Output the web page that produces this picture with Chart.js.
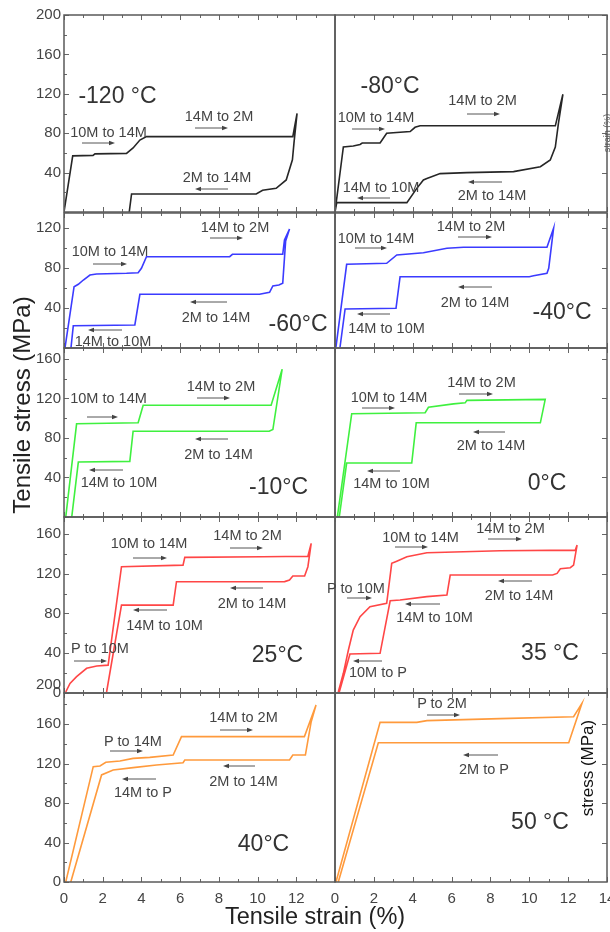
<!DOCTYPE html>
<html><head><meta charset="utf-8">
<script src="https://cdn.jsdelivr.net/npm/chart.js@4"></script>
<style>
html,body{margin:0;padding:0;background:#fff;}
#wrap{position:relative;width:610px;height:932px;overflow:hidden;font-family:"Liberation Sans",Arial,sans-serif;background:#fff;}
canvas{position:absolute;}
.t{position:absolute;white-space:nowrap;transform:translate(-50%,-50%);line-height:1;color:#444;}
.rot{position:absolute;white-space:nowrap;line-height:1;transform:translate(-50%,-50%) rotate(-90deg);}
svg{position:absolute;left:0;top:0;}
</style></head><body><div id="wrap"></div>
<script>
// ---------------- DATA ----------------
const xTicksLeft  = [0, 2, 4, 6, 8, 10, 12];
const xTicksRight = [0, 2, 4, 6, 8, 10, 12, 14];
const yTicksRow1 = [40, 80, 120, 160, 200];
const yTicksRow2 = [40, 80, 120];
const yTicksRow3 = [40, 80, 120, 160];
const yTicksRow4 = [0, 40, 80, 120, 160];
const yTicksRow5 = [0, 40, 80, 120, 160, 200];

// -120 °C
const strainM120 = [0, 0.45, 1.5, 1.6, 3.23, 3.57, 3.92, 4.26, 11.82, 12.04, 11.88, 11.8, 11.48, 10.96, 10.26, 9.93, 3.49, 3.37];
const stressM120 = [0, 57, 57.5, 59, 59.5, 65, 73, 76.5, 76.5, 100, 70, 53, 32.5, 24, 22, 18.3, 18.3, 0];
// -80 °C
const strainM80 = [0, 0.43, 0.94, 1.29, 1.4, 2.32, 2.66, 3.87, 4.12, 4.38, 11.34, 11.73, 11.5, 11.34, 11.08, 10.57, 9.19, 6.79, 5.41, 4.73, 4.55, 4.21, 3.7, 0.09, 0];
const stressM80 = [0, 66, 67, 68.5, 70, 70, 80, 81.7, 86, 87.5, 87.5, 119.5, 90, 66, 52.8, 46, 41, 40, 39, 34, 32.5, 24, 9.5, 9.5, 0];
// -60 °C
const strainM60 = [0.05, 0.52, 0.74, 1.0, 1.34, 1.68, 3.23, 3.83, 4.0, 4.26, 8.56, 8.7, 11.3, 11.39, 11.65, 11.45, 11.3, 11.1, 10.79, 10.62, 10.1, 3.92, 3.66, 0.48, 0.36];
const stressM60 = [0, 61.3, 63.7, 68, 73, 74, 74.7, 75.3, 79.7, 91.3, 91.3, 93.7, 93.7, 108, 119, 107, 64.7, 63, 62, 55.7, 53.7, 53.7, 23, 22.3, 0];
// -40 °C
const strainM40 = [0.05, 0.6, 2.66, 3.18, 4.55, 5.76, 6.61, 10.91, 11.25, 11.0, 10.91, 10.22, 10.0, 3.35, 3.14, 0.52, 0.26];
const stressM40 = [1, 83.7, 84.7, 93, 95.3, 99.7, 100.7, 100.7, 119.7, 79.7, 74.7, 72.3, 71.3, 71.3, 39.7, 39, 1];
// -10 °C
const strainM10 = [0.09, 0.65, 3.83, 4.09, 10.7, 11.27, 10.79, 10.6, 3.57, 3.4, 0.74, 0.4];
const stressM10 = [0, 94.3, 95.3, 113, 113, 149.5, 88.5, 86.8, 86.8, 56.3, 55.6, 0];
// 0 °C
const strain0C = [0.12, 0.86, 4.64, 4.81, 6.1, 6.7, 6.79, 10.82, 10.57, 4.18, 3.95, 0.6, 0.22];
const stress0C = [0, 104.5, 105.5, 111, 114.5, 115.5, 118, 119, 95.3, 95.3, 54.6, 54.6, 0];
// 25 °C
const strain25C = [0.09, 0.31, 0.65, 1.17, 1.69, 2.28, 2.97, 6.15, 6.24, 10.27, 12.6, 12.77, 12.6, 12.43, 11.82, 11.65, 11.4, 5.81, 5.64, 2.97, 2.2];
const stress25C = [1, 9.7, 16.4, 24.8, 27.1, 28, 127, 128.6, 136.4, 137, 137.5, 150.5, 127, 117.6, 117.6, 113.6, 112, 111.9, 88.4, 88.4, 1];
// 35 °C
const strain35C = [0.17, 0.43, 0.69, 0.94, 1.29, 1.8, 2.66, 2.92, 3.18, 3.7, 4.73, 8.5, 12.37, 12.46, 12.28, 12.11, 11.6, 11.43, 11.2, 5.93, 5.76, 4.73, 3.35, 2.84, 2.32, 0.77, 0.22];
const stress35C = [1, 19.8, 43.2, 63.3, 76.7, 86.7, 90.1, 130.4, 132.6, 137, 141, 143, 143.7, 148.7, 128.6, 126, 125, 120.3, 118.6, 118.6, 98.5, 96.9, 93.5, 92.8, 39.9, 39.2, 1];
// 40 °C
const strain40C = [0.09, 1.51, 1.86, 2.16, 2.89, 3.57, 4.43, 5.64, 6.07, 12.42, 13.02, 12.77, 12.47, 11.82, 11.65, 11.4, 6.24, 6.15, 4.78, 3.57, 2.54, 1.94, 0.35];
const stress40C = [0, 116.8, 117.5, 121.2, 122.5, 125.2, 126.2, 128.6, 147.2, 147.2, 179.2, 162.3, 128.6, 128.6, 123.5, 123.5, 123.5, 120.8, 118.5, 115.8, 113.4, 108.4, 0];
// 50 °C
const strain50C = [0.05, 2.32, 4.21, 4.73, 8.5, 12.28, 12.71, 12.03, 2.23, 0.17];
const stress50C = [0, 161.7, 161.7, 163.4, 165.4, 167.4, 180.9, 141, 141, 0];

// ---------------- LAYOUT ----------------
const FONT = '"Liberation Sans", Arial, sans-serif';
const rows = [
  {top: 15,  bottom: 212, ymax: 200,   yt: yTicksRow1, color: '#262626', L: [strainM120, stressM120], R: [strainM80, stressM80]},
  {top: 213, bottom: 348, ymax: 135,   yt: yTicksRow2, color: '#3b3bff', L: [strainM60, stressM60],  R: [strainM40, stressM40]},
  {top: 348, bottom: 517, ymax: 171,   yt: yTicksRow3, color: '#3ff03f', L: [strainM10, stressM10],  R: [strain0C, stress0C]},
  {top: 517, bottom: 693, ymax: 177,   yt: yTicksRow4, color: '#ff4646', L: [strain25C, stress25C],  R: [strain35C, stress35C]},
  {top: 693, bottom: 882, ymax: 191.4, yt: yTicksRow5, color: '#ff9a3c', L: [strain40C, stress40C],  R: [strain50C, stress50C]}
];

const wrap = document.getElementById('wrap');

const framePlugin = {
  id: 'frame',
  afterDraw(chart, args, opts) {
    const {ctx, chartArea: a, scales} = chart;
    const xs = scales.x, ys = scales.y;
    ctx.save();
    ctx.strokeStyle = '#666';
    ctx.lineWidth = 1;
    ctx.beginPath();
    for (let v = 0; v <= 14; v++) {
      const px = Math.round(xs.getPixelForValue(v)) + 0.5;
      const len = v % 2 === 0 ? 5 : 3;
      ctx.moveTo(px, a.bottom); ctx.lineTo(px, a.bottom - len);
      ctx.moveTo(px, a.top); ctx.lineTo(px, a.top + len);
    }
    if (opts.side === 'left') {
      for (let v = 0; v <= ys.max; v += 20) {
        const py = Math.round(ys.getPixelForValue(v)) + 0.5;
        const len = v % 40 === 0 ? 5 : 3;
        ctx.moveTo(a.left, py); ctx.lineTo(a.left + len, py);
      }
    } else {
      for (let v = 40; v <= ys.max; v += 40) {
        const py = Math.round(ys.getPixelForValue(v)) + 0.5;
        ctx.moveTo(a.right, py); ctx.lineTo(a.right - 5, py);
      }
    }
    ctx.stroke();
    ctx.lineWidth = 1.5;
    ctx.strokeStyle = '#5a5a5a';
    ctx.strokeRect(a.left, a.top, a.right - a.left, a.bottom - a.top);
    ctx.restore();
  }
};

function makePanel(row, side, isBottom) {
  const c = document.createElement('canvas');
  const isLeft = side === 'left';
  const padTop = isBottom ? 20 : 10;
  const padBottom = isBottom ? 0 : 10;
  const xAxisH = isBottom ? 28 : 0;
  const h = padTop + (row.bottom - row.top) + padBottom + xAxisH;
  const left = isLeft ? 0 : 330;
  const w = isLeft ? 336 : 280;
  c.width = w; c.height = h;
  c.style.left = left + 'px';
  c.style.top = (row.top - padTop) + 'px';
  c.style.width = w + 'px'; c.style.height = h + 'px';
  wrap.appendChild(c);
  const src = isLeft ? row.L : row.R;
  const pts = src[0].map((x, i) => ({x: x, y: src[1][i]}));
  const xt = isLeft ? xTicksLeft : xTicksRight;
  new Chart(c, {
    type: 'scatter',
    data: {datasets: [{data: pts, showLine: true, borderColor: row.color, borderWidth: 1.6,
      pointRadius: 0, pointHoverRadius: 0, tension: 0, fill: false}]},
    options: {
      responsive: false, animation: false, devicePixelRatio: 1, events: [],
      layout: {padding: {top: padTop, bottom: padBottom, left: isLeft ? 0 : 5, right: isLeft ? 1 : 3}},
      plugins: {legend: {display: false}, tooltip: {enabled: false}, frame: {side: side}},
      scales: {
        x: {type: 'linear', min: 0, max: 14, display: isBottom,
          grid: {display: false, drawTicks: false}, border: {display: false},
          ticks: {autoSkip: false, maxRotation: 0, padding: 8, color: '#444', font: {family: FONT, size: 15}, callback: v => String(v)},
          afterBuildTicks: s => { s.ticks = xt.map(v => ({value: v})); },
          afterFit: s => { s.height = xAxisH; s.paddingLeft = 0; s.paddingRight = 0; }
        },
        y: {type: 'linear', min: 0, max: row.ymax, display: isLeft,
          grid: {display: false, drawTicks: false}, border: {display: false},
          ticks: {autoSkip: false, padding: 3, color: '#444', font: {family: FONT, size: 15}, callback: v => String(v)},
          afterBuildTicks: s => { s.ticks = row.yt.map(v => ({value: v})); },
          afterFit: s => { s.width = isLeft ? 64 : 0; s.paddingTop = 0; s.paddingBottom = 0; }
        }
      }
    },
    plugins: [framePlugin]
  });
}

rows.forEach((r, i) => { makePanel(r, 'left', i === 4); makePanel(r, 'right', i === 4); });

// ---------------- ANNOTATIONS ----------------
const labels = [
  ['-120 °C', 117.5, 95, 23], ['10M to 14M', 108.5, 132], ['14M to 2M', 219, 116], ['2M to 14M', 217, 177],
  ['-80°C', 390, 85, 23], ['10M to 14M', 376, 117], ['14M to 2M', 482.5, 100], ['14M to 10M', 381, 187], ['2M to 14M', 492, 195],
  ['14M to 2M', 235, 227], ['10M to 14M', 110, 251], ['2M to 14M', 216, 317], ['-60°C', 298, 323, 23], ['14M to 10M', 113, 341],
  ['14M to 2M', 471, 226], ['10M to 14M', 376, 238], ['2M to 14M', 475, 302], ['-40°C', 562, 311, 23], ['14M to 10M', 386.5, 328],
  ['14M to 2M', 221, 386], ['10M to 14M', 108.5, 398], ['2M to 14M', 218.5, 454], ['14M to 10M', 119, 482], ['-10°C', 278.5, 486, 23],
  ['14M to 2M', 481.5, 382], ['10M to 14M', 389, 397], ['2M to 14M', 491, 445], ['14M to 10M', 391.5, 483], ['0°C', 547, 482, 23],
  ['10M to 14M', 149, 543], ['14M to 2M', 247.5, 535], ['2M to 14M', 252, 603], ['14M to 10M', 164.5, 625], ['P to 10M', 100, 648], ['25°C', 277.5, 654, 23],
  ['10M to 14M', 420.5, 537], ['14M to 2M', 510.5, 528], ['2M to 14M', 519, 595], ['P to 10M', 356, 588], ['14M to 10M', 434.5, 617], ['10M to P', 378, 672], ['35 °C', 550, 652, 23],
  ['14M to 2M', 243.5, 717], ['P to 14M', 133, 741], ['2M to 14M', 243.5, 781], ['14M to P', 143, 792], ['40°C', 263.5, 843, 23],
  ['P to 2M', 442, 703], ['2M to P', 484, 769], ['50 °C', 540, 821, 23]
];
const arrows = [
  [82, 115, 143], [195, 228, 128], [228, 195, 189], [352, 385, 129], [467, 500, 114], [390, 357, 198], [502, 468, 182],
  [210, 243, 238], [93, 127, 264], [227, 190, 302], [122, 88, 330], [458, 492, 237], [355, 387, 248], [492, 458, 287], [390, 357, 314],
  [197, 230, 398], [87, 118, 417], [228, 195, 439], [123, 89, 470], [459, 493, 394], [362, 395, 408], [505, 473, 432], [400, 367, 471],
  [133, 167, 558], [230, 263, 548], [263, 230, 588], [167, 133, 610], [74, 107, 661],
  [395, 428, 547], [488, 522, 539], [532, 498, 581], [347, 372, 598], [440, 405, 604], [382, 353, 661],
  [220, 253, 730], [110, 143, 751], [255, 223, 766], [156, 122, 779], [427, 460, 715], [498, 463, 755]
];

const NS = 'http://www.w3.org/2000/svg';
const svg = document.createElementNS(NS, 'svg');
svg.setAttribute('width', 610); svg.setAttribute('height', 932);
arrows.forEach(([x1, x2, y]) => {
  const dir = x2 > x1 ? 1 : -1;
  const ln = document.createElementNS(NS, 'line');
  ln.setAttribute('x1', x1); ln.setAttribute('x2', x2 - dir * 4);
  ln.setAttribute('y1', y); ln.setAttribute('y2', y);
  ln.setAttribute('stroke', '#555'); ln.setAttribute('stroke-width', '1');
  svg.appendChild(ln);
  const p = document.createElementNS(NS, 'polygon');
  p.setAttribute('points', `${x2},${y} ${x2 - dir * 6},${y - 2.2} ${x2 - dir * 6},${y + 2.2}`);
  p.setAttribute('fill', '#444');
  svg.appendChild(p);
});
wrap.appendChild(svg);

labels.forEach(([txt, cx, cy, size]) => {
  const d = document.createElement('div');
  d.className = 't';
  d.textContent = txt;
  d.style.left = cx + 'px'; d.style.top = cy + 'px';
  d.style.fontSize = (size || 14.5) + 'px';
  if (size) d.style.color = '#333';
  wrap.appendChild(d);
});

function rotText(txt, cx, cy, size, color) {
  const d = document.createElement('div');
  d.className = 'rot';
  d.textContent = txt;
  d.style.left = cx + 'px'; d.style.top = cy + 'px';
  d.style.fontSize = size + 'px'; d.style.color = color;
  wrap.appendChild(d);
}
rotText('Tensile stress (MPa)', 22, 405, 24, '#222');
rotText('stress (MPa)', 587, 768, 17, '#111');
rotText('strain (%)', 607, 133, 9, '#555');

const xt = document.createElement('div');
xt.className = 't';
xt.textContent = 'Tensile strain (%)';
xt.style.left = '315px'; xt.style.top = '917px'; xt.style.fontSize = '23.5px'; xt.style.color = '#222';
wrap.appendChild(xt);
</script>
</body></html>
